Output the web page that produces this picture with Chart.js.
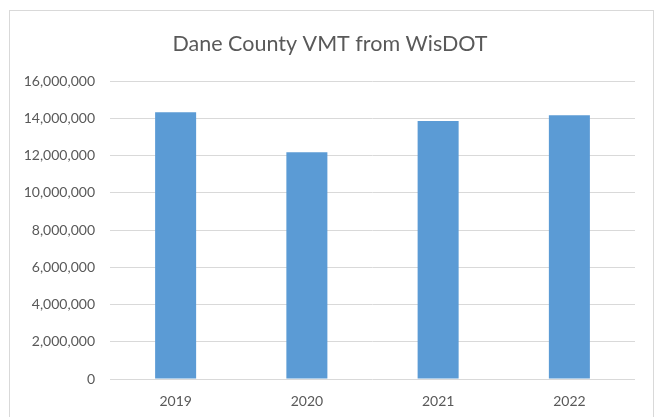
<!DOCTYPE html>
<html>
<head>
<meta charset="utf-8">
<script src="https://cdn.jsdelivr.net/npm/chart.js@4"></script>
<style>
  html, body { margin: 0; padding: 0; background: #ffffff; }
  #wrap { position: relative; width: 654px; height: 417px; overflow: hidden; }
  #frame { position: absolute; left: 9px; top: 10px; width: 643px; height: 420px; border: 1px solid #d9d9d9; pointer-events: none; }
  canvas { position: absolute; left: 0; top: 0; }
</style>
</head>
<body>
<div id="wrap">
  <canvas id="c" width="654" height="417"></canvas>
  <div id="frame"></div>
</div>
<script>
const categories = ["2019", "2020", "2021", "2022"];
const vmtValues = [14330000, 12190000, 13870000, 14170000];
const titleText = "Dane County VMT from WisDOT";
const yMin = 0, yMax = 16000000, yStep = 2000000;

const fontFamily = "Lato, 'Open Sans', sans-serif";
const textColor = "#595959";

new Chart(document.getElementById("c"), {
  type: "bar",
  data: {
    labels: categories,
    datasets: [{
      label: "VMT",
      data: vmtValues,
      backgroundColor: "#5b9bd5",
      borderWidth: 0,
      barPercentage: 0.3125,
      categoryPercentage: 1.0
    }]
  },
  options: {
    responsive: false,
    animation: false,
    devicePixelRatio: 1,
    layout: { padding: { left: 25, right: 19, top: 0, bottom: 0 } },
    plugins: {
      legend: { display: false },
      tooltip: { enabled: false },
      title: {
        display: true,
        text: titleText,
        color: textColor,
        font: { family: fontFamily, size: 21.5, weight: "normal" },
        padding: { top: 31, bottom: 24.5 }
      }
    },
    scales: {
      x: {
        grid: { display: false, drawTicks: false },
        border: { display: false },
        ticks: { color: textColor, font: { family: fontFamily, size: 14 }, padding: 14 },
        afterFit: (s) => { s.height = 38; }
      },
      y: {
        min: yMin, max: yMax,
        grid: { color: "#d9d9d9", lineWidth: 1, drawTicks: false },
        border: { display: false },
        ticks: {
          stepSize: yStep,
          color: textColor,
          font: { family: fontFamily, size: 14 },
          padding: 15,
          callback: (v) => Number(v).toLocaleString("en-US")
        },
        afterFit: (s) => { s.width = 85; }
      }
    }
  }
});
</script>
</body>
</html>
